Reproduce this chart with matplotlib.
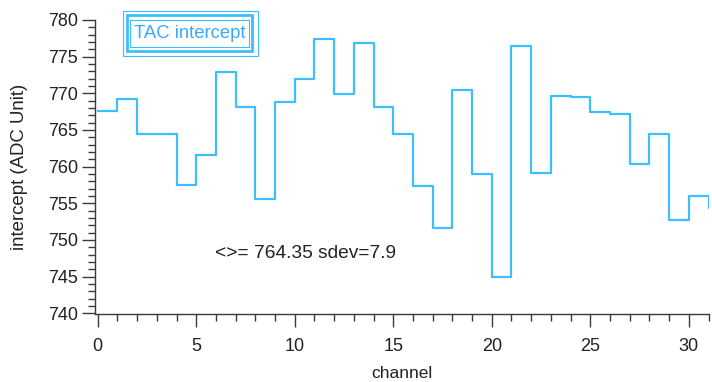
import matplotlib
matplotlib.use("Agg")
import matplotlib.pyplot as plt
from matplotlib.patches import Rectangle
import numpy as np

plt.rcParams['font.family'] = ['Liberation Sans', 'DejaVu Sans']

# Fitted TAC intercept per channel (ADC units)
channels = np.arange(32)
intercepts = [767.6, 769.2, 764.4, 764.4, 757.5, 761.6, 772.9, 768.2,
              755.6, 768.8, 772.0, 777.4, 769.9, 776.9, 768.2, 764.5,
              757.4, 751.6, 770.4, 758.95, 745.0, 776.5, 759.1, 769.7,
              769.5, 767.4, 767.2, 760.3, 764.4, 752.7, 756.0, 754.3]
x_ticks = [0, 5, 10, 15, 20, 25, 30]
y_ticks = [740, 745, 750, 755, 760, 765, 770, 775, 780]
legend_label = "TAC intercept"
summary = "<>= 764.35 sdev=7.9"

W, H = 712, 382
fig = plt.figure(figsize=(W / 100, H / 100), dpi=100)
ax = fig.add_axes([95 / W, 1 - 314 / H, (708.5 - 95) / W, (314 - 20) / H])

line_color = "#3DBEFF"
text_color = "#222222"
axis_color = "#3a3a3a"

edges = np.append(channels, channels[-1] + 1)
vals = np.append(intercepts, intercepts[-1])
ax.step(edges, vals, where='post', color=line_color, lw=1.6)

ax.set_xlim(-0.14, 31)
ax.set_ylim(739.9, 780)
ax.set_xticks(x_ticks)
ax.set_yticks(y_ticks)
ax.set_xticks(np.arange(0, 32), minor=True)
ax.set_yticks(np.arange(740, 781), minor=True)

for s in ("top", "right"):
    ax.spines[s].set_visible(False)
for s in ("left", "bottom"):
    ax.spines[s].set_color(axis_color)
    ax.spines[s].set_linewidth(1.0)

ax.tick_params(which='major', direction='out', length=9.4, width=1.0,
               color=axis_color, labelsize=13, labelcolor=text_color)
ax.tick_params(which='minor', direction='out', length=5, width=1.0,
               color=axis_color)
ax.tick_params(axis='y', which='major', pad=3)
ax.tick_params(axis='x', which='major', pad=8)

ax.set_xlabel("channel", fontsize=12.5, color=text_color, labelpad=8)
ax.set_ylabel("intercept (ADC Unit)", fontsize=13.4, color=text_color,
              labelpad=14)

ax.text(5.96, 748.2, summary, fontsize=13.8, color=text_color,
        ha='left', va='center')

# Framed legend box with triple border
def px_rect(x0, y0, x1, y1, lw):
    return Rectangle((x0 / W, 1 - y1 / H), (x1 - x0) / W, (y1 - y0) / H,
                     transform=fig.transFigure, fill=False,
                     edgecolor=line_color, linewidth=lw)

fig.patches.append(px_rect(122.5, 10.5, 258, 55.5, 0.8))
fig.patches.append(px_rect(126.5, 15, 252, 51, 2.0))
fig.patches.append(px_rect(130, 19.5, 248.5, 46.5, 0.8))
fig.text(189.5 / W, 1 - 33 / H, legend_label, fontsize=13.3,
         color="#3AA8FF", ha='center', va='center')

fig.savefig("out.png", dpi=100)
